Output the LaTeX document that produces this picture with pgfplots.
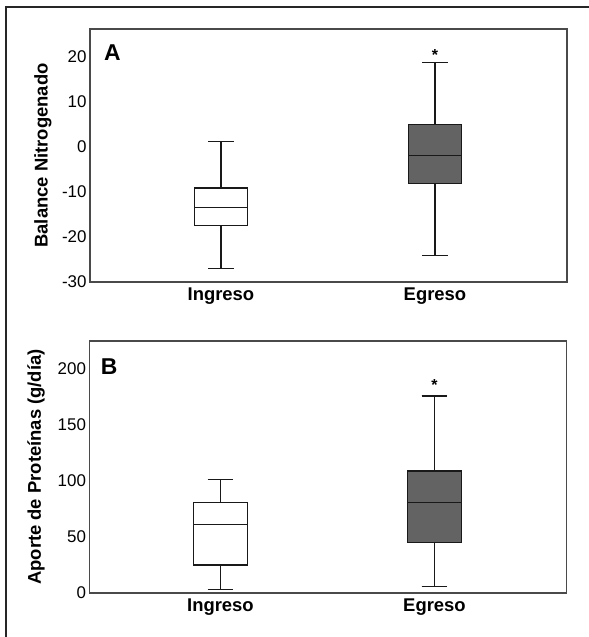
\documentclass[border=0pt]{standalone}
\usepackage{fontspec}
\setmainfont{Liberation Sans}
\usepackage{pgfplots}
\pgfplotsset{compat=1.18}
\usepgfplotslibrary{statistics}

\definecolor{boxgray}{HTML}{636363}
\definecolor{axgray}{HTML}{4A4A4A}

\pgfplotsset{
  panel/.style={
    scale only axis,
    width=477bp,
    anchor=south west,
    xmin=0.388, xmax=2.617,
    xtick={1,2},
    xticklabels={Ingreso,Egreso},
    major tick length=0pt,
    axis line style={axgray, line width=1.1bp},
    tick label style={font=\fontsize{17}{18}\selectfont},
    xticklabel style={font=\fontsize{18.5}{20}\selectfont\bfseries, yshift=-2bp},
    ylabel style={font=\fontsize{18.5}{20}\selectfont\bfseries, anchor=center},
    /pgf/number format/assume math mode=true,
    boxplot/draw direction=y,
    clip=false,
  },
  bx/.style={black!90, line width=1.3bp, solid, mark=none},
}

\begin{document}
\begin{tikzpicture}
\useasboundingbox (0,0) rectangle (589bp,637bp);
\draw[line width=2.8bp, black!85] (6bp,0) -- (6bp,630bp) -- (589bp,630bp);

% Panel A
\begin{axis}[panel,
  at={(90bp,355bp)}, height=253bp,
  ymin=-30, ymax=26.2,
  ytick={-30,-20,-10,0,10,20},
  ylabel={Balance Nitrogenado},
  ylabel style={at={(rel axis cs:0,0.5)}, yshift=47bp},
]
\addplot[bx, fill=white, boxplot prepared={draw position=1,
  lower whisker=-27.0, lower quartile=-17.4, median=-13.5,
  upper quartile=-9.1, upper whisker=1.2,
  box extend=0.25, whisker extend=0.12}] coordinates {};
\addplot[bx, fill=boxgray, boxplot prepared={draw position=2,
  lower whisker=-24.1, lower quartile=-8.1, median=-1.9,
  upper quartile=5.0, upper whisker=18.7,
  box extend=0.25, whisker extend=0.12}] coordinates {};
\node[font=\fontsize{23}{24}\selectfont\bfseries] at (rel axis cs:0.047,0.905) {A};
\node[anchor=base, font=\fontsize{16}{18}\selectfont\bfseries] at (axis cs:2,19.3) {*};
\end{axis}

% Panel B
\begin{axis}[panel,
  at={(89.5bp,44bp)}, height=252bp,
  ymin=0, ymax=225,
  ytick={0,50,100,150,200},
  ylabel={Aporte de Proteínas (g/día)},
  ylabel style={at={(rel axis cs:0,0.5)}, yshift=53.5bp},
]
\addplot[bx, fill=white, boxplot prepared={draw position=1,
  lower whisker=3.3, lower quartile=25, median=61.3,
  upper quartile=81, upper whisker=101.5,
  box extend=0.25, whisker extend=0.12}] coordinates {};
\addplot[bx, fill=boxgray, boxplot prepared={draw position=2,
  lower whisker=5.6, lower quartile=45.3, median=81,
  upper quartile=109, upper whisker=176,
  box extend=0.25, whisker extend=0.12}] coordinates {};
\node[font=\fontsize{23}{24}\selectfont\bfseries] at (rel axis cs:0.041,0.897) {B};
\node[anchor=base, font=\fontsize{16}{18}\selectfont\bfseries] at (axis cs:2,181) {*};
\end{axis}
\end{tikzpicture}
\end{document}
